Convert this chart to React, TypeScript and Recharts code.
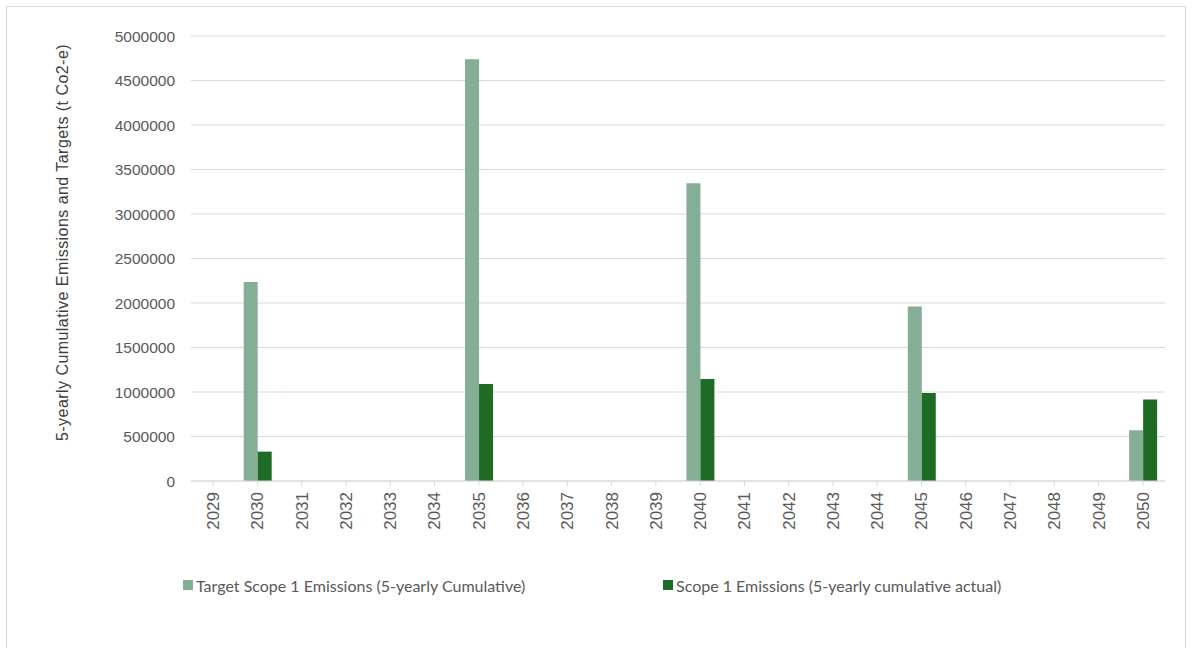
import { BarChart, Bar, XAxis, YAxis, CartesianGrid, Legend } from 'recharts';

const years = [
  '2029', '2030', '2031', '2032', '2033', '2034', '2035', '2036', '2037', '2038', '2039',
  '2040', '2041', '2042', '2043', '2044', '2045', '2046', '2047', '2048', '2049', '2050',
];

const targetEmissions = [
  null, 2235000, null, null, null, null, 4740000, null, null, null, null,
  3345000, null, null, null, null, 1960000, null, null, null, null, 570000,
];

const actualEmissions = [
  null, 330000, null, null, null, null, 1090000, null, null, null, null,
  1145000, null, null, null, null, 988000, null, null, null, null, 915000,
];

const yTicks = [0, 500000, 1000000, 1500000, 2000000, 2500000, 3000000, 3500000, 4000000, 4500000, 5000000];

const TARGET_NAME = 'Target Scope 1 Emissions (5-yearly Cumulative)';
const ACTUAL_NAME = 'Scope 1 Emissions (5-yearly cumulative actual)';
const TARGET_COLOR = '#84ae95';
const ACTUAL_COLOR = '#1e6b25';

const data = years.map((year, i) => ({
  year,
  target: targetEmissions[i],
  actual: actualEmissions[i],
}));

const axisFont = '"Liberation Sans", Arial, sans-serif';

function YearTick({ x, y, payload }: any) {
  return (
    <g transform={`translate(${x},${y})`}>
      <text
        transform="rotate(-90)"
        x={-4}
        y={0}
        dy="0.35em"
        textAnchor="end"
        fill="#595959"
        fontSize={17}
        fontFamily={axisFont}
      >
        {payload.value}
      </text>
    </g>
  );
}

function LegendContent() {
  const items = [
    { name: TARGET_NAME, color: TARGET_COLOR, width: 480 },
    { name: ACTUAL_NAME, color: ACTUAL_COLOR, width: 400 },
  ];
  return (
    <div style={{ display: 'flex', height: 20, fontFamily: 'Lato, sans-serif', fontSize: 16, color: '#595959' }}>
      {items.map((item) => (
        <div key={item.name} style={{ width: item.width, display: 'flex', alignItems: 'center' }}>
          <span style={{ display: 'inline-block', width: 10, height: 10, background: item.color, marginRight: 3 }} />
          <span>{item.name}</span>
        </div>
      ))}
    </div>
  );
}

export default function App() {
  return (
    <div style={{ position: 'absolute', left: 0, top: 0, width: 1192, height: 648, background: '#fff', overflow: 'hidden' }}>
      <div
        style={{
          position: 'absolute',
          left: 6,
          top: 6,
          width: 1178,
          height: 660,
          border: '1px solid #d9d9d9',
        }}
      />
      <BarChart
        width={1192}
        height={648}
        data={data}
        margin={{ top: 36, right: 27, left: 0, bottom: 97 }}
        barCategoryGap="19%"
        barGap={0}
      >
        <CartesianGrid vertical={false} stroke="#d9d9d9" />
        <XAxis
          dataKey="year"
          interval={0}
          height={50}
          stroke="#d9d9d9"
          tickSize={5}
          tick={<YearTick />}
        />
        <YAxis
          width={191}
          domain={[0, 5000000]}
          ticks={yTicks}
          axisLine={false}
          tickLine={false}
          tickMargin={10}
          tick={{ fill: '#595959', fontSize: 15.5, fontFamily: axisFont }}
          label={{
            value: '5-yearly Cumulative Emissions and Targets (t Co2-e)',
            angle: -90,
            position: 'insideLeft',
            offset: 62,
            dy: -16,
            style: { textAnchor: 'middle', fill: '#404040', fontSize: 16, letterSpacing: 0.45, fontFamily: axisFont },
          }}
        />
        <Legend
          verticalAlign="bottom"
          content={<LegendContent />}
          wrapperStyle={{ top: 575, left: 183, bottom: 'auto', width: 'auto' }}
        />
        <Bar dataKey="target" name={TARGET_NAME} fill={TARGET_COLOR} isAnimationActive={false} />
        <Bar dataKey="actual" name={ACTUAL_NAME} fill={ACTUAL_COLOR} isAnimationActive={false} />
      </BarChart>
    </div>
  );
}
